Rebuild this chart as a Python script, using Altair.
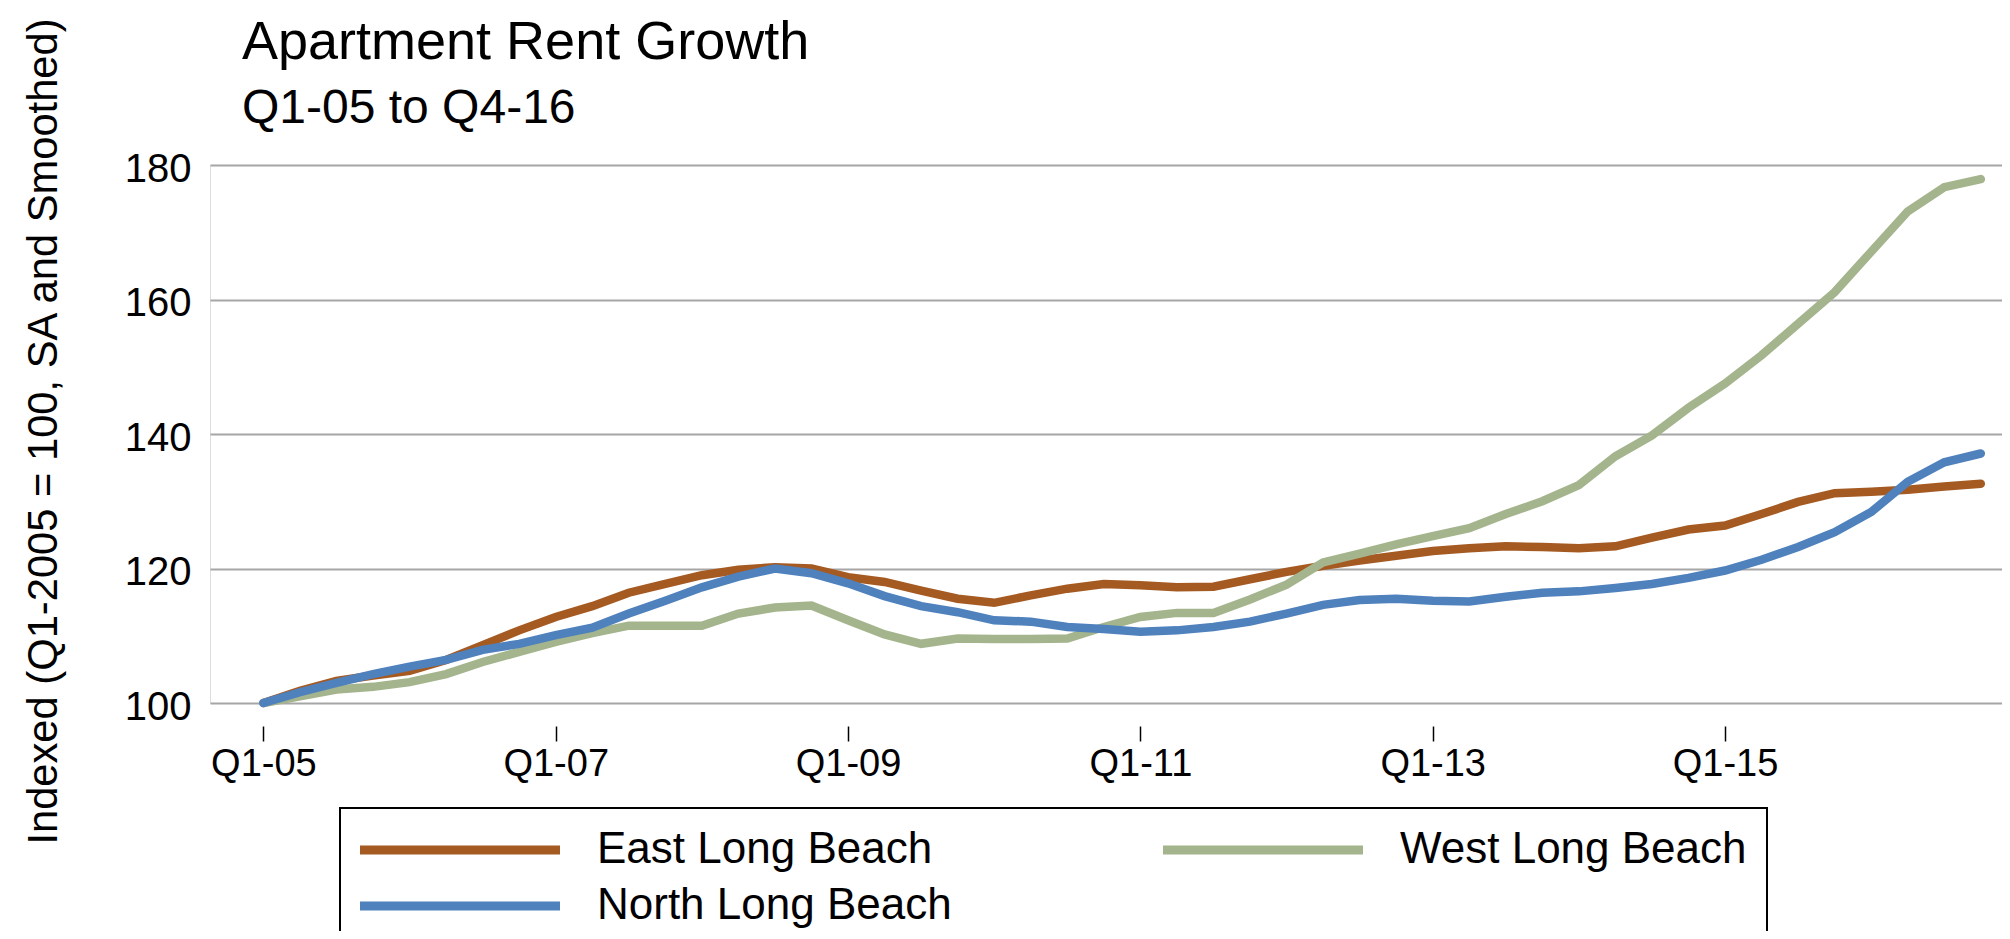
import altair as alt
import pandas as pd

# ---- data (index 0 = Q1-05 ... 47 = Q4-16) ----
quarters = list(range(48))

east = [100.0, 101.8, 103.3, 104.1, 104.8, 106.4, 108.6, 110.8, 112.8, 114.4,
        116.4, 117.7, 119.0, 119.8, 120.2, 120.0, 118.7, 118.0, 116.7, 115.5,
        114.9, 116.0, 117.0, 117.7, 117.5, 117.2, 117.3, 118.4, 119.5, 120.4,
        121.2, 121.9, 122.6, 123.0, 123.3, 123.2, 123.0, 123.3, 124.6, 125.8,
        126.4, 128.1, 129.9, 131.2, 131.4, 131.7, 132.2, 132.6]

west = [100.0, 101.0, 102.0, 102.4, 103.1, 104.3, 106.1, 107.6, 109.1, 110.4,
        111.5, 111.5, 111.5, 113.3, 114.2, 114.5, 112.3, 110.2, 108.8, 109.6,
        109.5, 109.5, 109.6, 111.3, 112.8, 113.4, 113.4, 115.4, 117.6, 120.9,
        122.2, 123.6, 124.8, 126.0, 128.1, 130.0, 132.4, 136.7, 139.8, 143.9,
        147.5, 151.7, 156.4, 161.1, 167.1, 173.1, 176.7, 177.9]

north = [100.0, 101.6, 103.0, 104.3, 105.4, 106.4, 107.9, 108.8, 110.1, 111.2,
         113.3, 115.2, 117.2, 118.8, 120.0, 119.3, 117.8, 115.9, 114.4, 113.5,
         112.3, 112.1, 111.3, 111.0, 110.6, 110.8, 111.3, 112.1, 113.3, 114.6,
         115.3, 115.5, 115.2, 115.1, 115.8, 116.4, 116.6, 117.1, 117.7, 118.6,
         119.7, 121.3, 123.2, 125.4, 128.4, 132.9, 135.8, 137.1]

# drawing order (later on top)
series_names = ["East Long Beach", "West Long Beach", "North Long Beach"]
# legend order (filled column by column)
legend_order = ["East Long Beach", "North Long Beach", "West Long Beach"]
legend_colors = ["#A55A22", "#4F81BD", "#A4B48C"]
x_tick_values = [0, 8, 16, 24, 32, 40]
y_tick_values = [100, 120, 140, 160, 180]

rows = []
for name, vals in zip(series_names, [east, west, north]):
    for q, v in zip(quarters, vals):
        rows.append({"q": q, "value": v, "series": name})
df = pd.DataFrame(rows)

FONT = "Liberation Sans"

x_enc = alt.X(
    "q:Q",
    scale=alt.Scale(domain=[-1.461, 47.58], nice=False, zero=False),
    axis=alt.Axis(
        values=x_tick_values,
        labelExpr="'Q1-' + ((datum.value/4+5) < 10 ? '0' : '') + (datum.value/4+5)",
        title=None, grid=False, domain=False, ticks=True, tickSize=15,
        tickColor="black", tickWidth=1.5, offset=23,
        labelFontSize=38, labelFont=FONT, labelColor="black", labelPadding=4,
        labelFlush=False, labelOverlap=False,
    ),
)

y_enc = alt.Y(
    "value:Q",
    scale=alt.Scale(domain=[100, 180], nice=False, zero=False),
    axis=alt.Axis(
        values=y_tick_values,
        title="Indexed (Q1-2005 = 100, SA and Smoothed)",
        grid=True, gridColor="#A6A6A6", gridWidth=2, domain=False,
        ticks=False, tickSize=0,
        labelFontSize=40, labelFont=FONT, labelColor="black",
        labelPadding=19, labelOffset=4,
        titleFontSize=41.7, titleFont=FONT, titleFontWeight="normal",
        titleColor="black", titleAngle=270, titleX=-154, titleY=266,
        titleAlign="center", titleBaseline="alphabetic",
    ),
)

color_enc = alt.Color(
    "series:N",
    sort=legend_order,
    scale=alt.Scale(domain=legend_order, range=legend_colors),
    legend=alt.Legend(
        title=None, orient="none", legendX=130, legendY=643, columns=2,
        values=legend_order,
        columnPadding=193, rowPadding=12, padding=20,
        strokeColor="black",
        symbolType="M-20,0H20", symbolSize=100, symbolStrokeWidth=9,
        symbolOffset=78, labelOffset=115,
        labelFontSize=44, labelFont=FONT, labelColor="black", labelLimit=1000,
    ),
)

base = alt.Chart(df).encode(x=x_enc, y=y_enc, color=color_enc)

layers = [
    base.transform_filter(alt.datum.series == name).mark_line(
        strokeWidth=8.5, strokeCap="round"
    )
    for name in series_names
]

chart = alt.layer(*layers).properties(
    width=1792,
    height=538,
    padding={"left": 202, "top": 157, "right": 0, "bottom": 228},
    autosize=alt.AutoSizeParams(type="none"),
    title=alt.TitleParams(
        text="Apartment Rent Growth",
        subtitle="Q1-05 to Q4-16",
        anchor="start", frame="group", orient="top", offset=-116.5, dx=32,
        fontSize=54, subtitleFontSize=48, font=FONT, subtitleFont=FONT,
        fontWeight="normal", subtitleFontWeight="normal",
        color="black", subtitleColor="black", subtitlePadding=15,
    ),
).configure_view(stroke=None).configure(background="white").configure_legend(
    strokeWidth=2
)

chart.save("out.html", embed_options={"renderer": "svg", "actions": False})
